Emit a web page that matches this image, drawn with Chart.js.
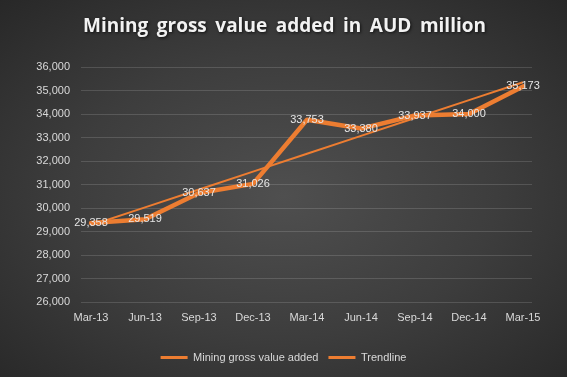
<!DOCTYPE html>
<html>
<head>
<meta charset="utf-8">
<script src="https://cdn.jsdelivr.net/npm/chart.js@4.4.0/dist/chart.umd.min.js"></script>
<style>
  html, body { margin: 0; padding: 0; }
  body {
    width: 567px; height: 377px; overflow: hidden;
    background: radial-gradient(ellipse 75% 75% at 50% 52%, #4f4f4f 0%, #3d3d3d 50%, #262626 100%);
  }
  #wrap { width: 567px; height: 377px; position: relative; }
</style>
</head>
<body>
<div id="wrap"><canvas id="c" width="567" height="377"></canvas></div>
<script>
const titleText = "Mining gross value added in AUD million";
const categories = ["Mar-13","Jun-13","Sep-13","Dec-13","Mar-14","Jun-14","Sep-14","Dec-14","Mar-15"];
const seriesName = "Mining gross value added";
const seriesValues = [29358, 29519, 30637, 31026, 33753, 33380, 33937, 34000, 35173];
const trendName = "Trendline";
const trendValues = [29265, 30026, 30787, 31548, 32309, 33070, 33831, 34592, 35353];
const yTicks = [26000, 27000, 28000, 29000, 30000, 31000, 32000, 33000, 34000, 35000, 36000];

const ORANGE = '#ED7D31';
const TEXT = '#d9d9d9';
const FONT = '"Liberation Sans", Arial, sans-serif';

const fmt = v => v.toLocaleString('en-US');

const titlePlugin = {
  id: 'xlTitle',
  afterDraw(chart) {
    const ctx = chart.ctx;
    ctx.save();
    ctx.font = 'bold 19px "Open Sans", sans-serif';
    ctx.letterSpacing = '0px';
    ctx.wordSpacing = '0px';
    const w = ctx.measureText(titleText).width;
    const target = 403;
    const spaces = titleText.split(' ').length - 1;
    const extra = Math.max(0, (target - w) / spaces);
    ctx.wordSpacing = extra + 'px';
    ctx.textAlign = 'center';
    ctx.textBaseline = 'alphabetic';
    ctx.shadowColor = 'rgba(0,0,0,0.7)';
    ctx.shadowBlur = 3;
    ctx.shadowOffsetX = 1;
    ctx.shadowOffsetY = 1;
    ctx.fillStyle = '#f2f2f2';
    ctx.fillText(titleText, chart.width / 2 + 1, 32);
    ctx.restore();
  }
};

const labelPlugin = {
  id: 'dataLabels',
  afterDatasetsDraw(chart) {
    const meta = chart.getDatasetMeta(0);
    const ctx = chart.ctx;
    ctx.save();
    ctx.font = '11px ' + FONT;
    ctx.fillStyle = '#e6e6e6';
    ctx.textAlign = 'center';
    ctx.textBaseline = 'middle';
    meta.data.forEach((pt, i) => {
      ctx.fillText(fmt(seriesValues[i]), pt.x, pt.y);
    });
    ctx.restore();
  }
};

const toPoints = vals => categories.map((c, i) => ({ x: i, y: vals[i] }));

new Chart(document.getElementById('c'), {
  type: 'line',
  data: {
    datasets: [
      {
        label: seriesName,
        data: toPoints(seriesValues),
        borderColor: ORANGE,
        backgroundColor: ORANGE,
        borderWidth: 4.5,
        borderJoinStyle: 'round',
        borderCapStyle: 'round',
        pointRadius: 0,
        tension: 0,
        order: 1
      },
      {
        label: trendName,
        data: toPoints(trendValues),
        borderColor: ORANGE,
        backgroundColor: ORANGE,
        borderWidth: 2,
        pointRadius: 0,
        tension: 0,
        order: 0
      }
    ]
  },
  options: {
    responsive: false,
    animation: false,
    devicePixelRatio: 1,
    layout: { padding: { top: 67, right: 0, bottom: 4, left: 0 } },
    plugins: {
      title: { display: false },
      tooltip: { enabled: false },
      legend: {
        display: true,
        position: 'bottom',
        labels: {
          color: TEXT,
          font: { family: FONT, size: 11 },
          boxWidth: 27,
          boxHeight: 3,
          padding: 10,
          generateLabels(chart) {
            return [
              { text: seriesName, fillStyle: ORANGE, strokeStyle: ORANGE, lineWidth: 0, datasetIndex: 0, fontColor: TEXT },
              { text: trendName, fillStyle: ORANGE, strokeStyle: ORANGE, lineWidth: 0, datasetIndex: 1, fontColor: TEXT }
            ];
          }
        }
      }
    },
    scales: {
      x: {
        type: 'linear',
        min: -10 / 54,
        max: 8 + 9 / 54,
        grid: { display: false, drawTicks: false },
        border: { display: false },
        afterFit(scale) { scale.height = 40; },
        afterBuildTicks(scale) {
          scale.ticks = categories.map((c, i) => ({ value: i }));
        },
        ticks: {
          autoSkip: false,
          maxRotation: 0,
          padding: 9,
          color: TEXT,
          font: { family: FONT, size: 11 },
          callback: (v) => categories[v]
        }
      },
      y: {
        min: yTicks[0],
        max: yTicks[yTicks.length - 1],
        afterFit(scale) { scale.width = 81; },
        afterBuildTicks(scale) {
          scale.ticks = yTicks.map(v => ({ value: v }));
        },
        grid: { color: 'rgba(255,255,255,0.14)', lineWidth: 1, drawTicks: false },
        border: { display: false },
        ticks: {
          padding: 11,
          color: TEXT,
          font: { family: FONT, size: 11 },
          callback: (v) => fmt(v)
        }
      },
      yRight: {
        position: 'right',
        display: true,
        grid: { display: false, drawOnChartArea: false, drawTicks: false },
        border: { display: false },
        ticks: { display: false },
        afterFit(scale) { scale.width = 35; }
      }
    }
  },
  plugins: [titlePlugin, labelPlugin]
});
</script>
</body>
</html>
